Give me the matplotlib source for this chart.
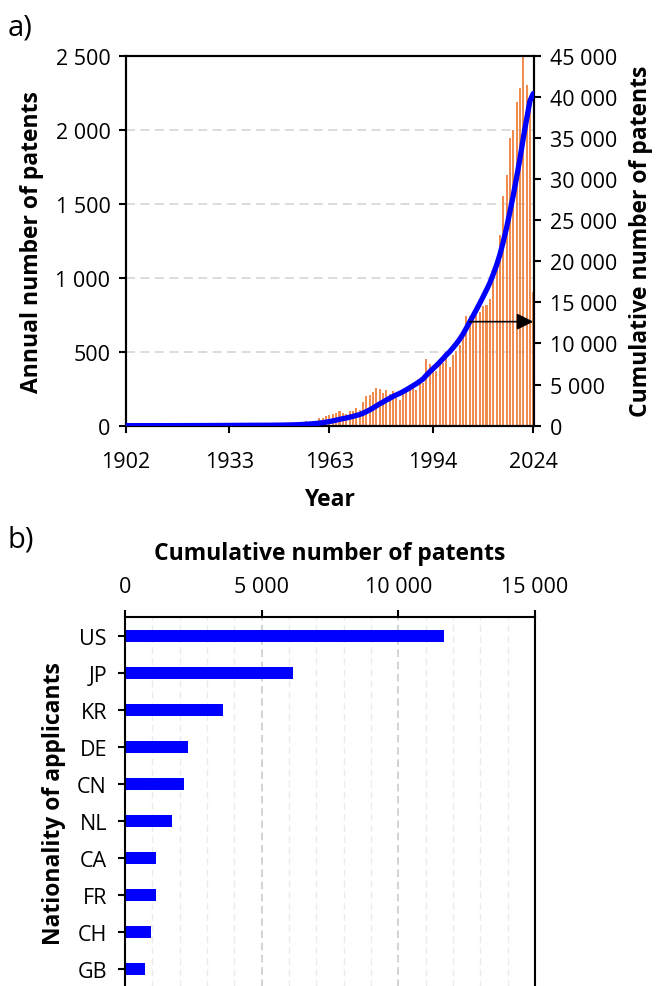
import matplotlib
matplotlib.use('Agg')
import matplotlib.pyplot as plt
from matplotlib.ticker import FuncFormatter, MultipleLocator
import numpy as np

plt.rcParams['font.family'] = ['Open Sans', 'DejaVu Sans']
plt.rcParams['font.size'] = 15.5

# a) annual patents per year, 1902-2024
years = np.arange(1902, 2025)
annual = [
    1, 0, 1, 0, 1, 1, 0, 1, 1, 0,            # 1902-1911
    1, 1, 0, 0, 1, 0, 0, 1, 1, 2,            # 1912-1921
    1, 1, 2, 1, 2, 2, 1, 2, 2, 1,            # 1922-1931
    2, 2, 3, 2, 3, 3, 2, 3, 2, 1,            # 1932-1941
    1, 2, 1, 2, 3, 4, 5, 6, 8, 9,            # 1942-1951
    10, 12, 15, 20, 32, 25, 30, 34, 50, 50,  # 1952-1961
    64, 71, 77, 89, 99, 86, 78, 96, 96, 117,  # 1962-1971
    104, 158, 198, 207, 230, 256, 250, 221, 239, 216,  # 1972-1981
    234, 189, 176, 216, 225, 243, 252, 243, 290, 290,  # 1982-1991
    450, 414, 392, 369, 419, 423, 459, 396, 478, 502,  # 1992-2001
    545, 625, 739, 739, 739, 750, 770, 806, 815, 855,  # 2002-2011
    1040, 1103, 1288, 1554, 1693, 1946, 1995, 2189, 2279, 2500,  # 2012-2021
    2302, 2230, 903,                          # 2022-2024
]
year_ticks = [1902, 1933, 1963, 1994, 2024]

# b) cumulative patents by applicant nationality
countries = ['US', 'JP', 'KR', 'DE', 'CN', 'NL', 'CA', 'FR', 'CH', 'GB']
country_totals = [11680, 6150, 3570, 2310, 2170, 1710, 1140, 1120, 940, 740]

cumulative = np.cumsum(annual)

space_fmt = FuncFormatter(lambda v, p: f"{int(round(v)):,}".replace(",", " "))
LBL = 16.5

fig = plt.figure(figsize=(6.57, 9.87), dpi=100)

# ---------- a) ----------
ax1 = fig.add_axes([0.1913, 0.5677, 0.6219, 0.3749])
ax1.bar(years, annual, width=0.6, color='#F08C50', zorder=2)
ax1.set_xlim(1902, 2024.3)
ax1.set_ylim(0, 2500)
ax1.set_yticks(range(0, 2501, 500))
ax1.yaxis.set_major_formatter(space_fmt)
ax1.set_xticks(year_ticks)
ax1.set_xticklabels([str(y) for y in year_ticks])
ax1.yaxis.grid(True, ls=(0, (5, 3)), color='#D9D9D9', lw=1.3)
ax1.set_axisbelow(True)
ax1.set_ylabel('Annual number of patents', fontweight='bold', fontsize=LBL, labelpad=8)
ax1.set_xlabel('Year', fontweight='bold', fontsize=LBL, labelpad=11)

ax2 = ax1.twinx()
ax2.plot(years, cumulative, color='#0000FF', lw=3.8, solid_capstyle='round', zorder=3)
ax2.set_ylim(0, 45000)
ax2.set_yticks(range(0, 45001, 5000))
ax2.yaxis.set_major_formatter(space_fmt)
ax2.set_ylabel('Cumulative number of patents', fontweight='bold', fontsize=LBL, labelpad=9)
ax2.annotate('', xy=(2024, 12650), xytext=(2005, 12650),
             arrowprops=dict(arrowstyle='-|>,head_length=0.5,head_width=0.25',
                             color='black', lw=1.2, mutation_scale=20,
                             shrinkA=0, shrinkB=0))

for ax in (ax1, ax2):
    for s in ax.spines.values():
        s.set_linewidth(1.5)
    ax.tick_params(direction='out', length=5, width=1.5, pad=6)
ax1.tick_params(axis='x', pad=13)

fig.text(0.012, 0.972, 'a)', fontsize=21, va='center')

# ---------- b) ----------
ax3 = fig.add_axes([0.1903, -0.0015, 0.6240, 0.3749])
pos = np.arange(len(countries))
ax3.barh(pos, country_totals, height=0.34, color='#0000FF', zorder=2)
ax3.set_ylim(len(countries) - 0.5, -0.5)
ax3.set_yticks(pos)
ax3.set_yticklabels(countries)
ax3.set_xlim(0, 15000)
ax3.xaxis.set_major_locator(MultipleLocator(5000))
ax3.xaxis.set_minor_locator(MultipleLocator(1000))
ax3.xaxis.set_major_formatter(space_fmt)
ax3.xaxis.tick_top()
ax3.xaxis.set_label_position('top')
ax3.xaxis.grid(True, which='major', ls=(0, (5, 3)), color='#C8C8C8', lw=1.1)
ax3.xaxis.grid(True, which='minor', ls=(0, (5, 3)), color='#EBEBEB', lw=1.0)
ax3.set_axisbelow(True)
ax3.set_xlabel('Cumulative number of patents', fontweight='bold', fontsize=LBL, labelpad=12)
ax3.set_ylabel('Nationality of applicants', fontweight='bold', fontsize=LBL, labelpad=8)
for s in ax3.spines.values():
    s.set_linewidth(1.5)
ax3.tick_params(which='major', direction='out', length=5, width=1.5, pad=8)
ax3.tick_params(axis='x', which='major', pad=10)
ax3.tick_params(which='minor', length=0)

fig.text(0.012, 0.453, 'b)', fontsize=21, va='center')

fig.savefig('out.png', dpi=100)
